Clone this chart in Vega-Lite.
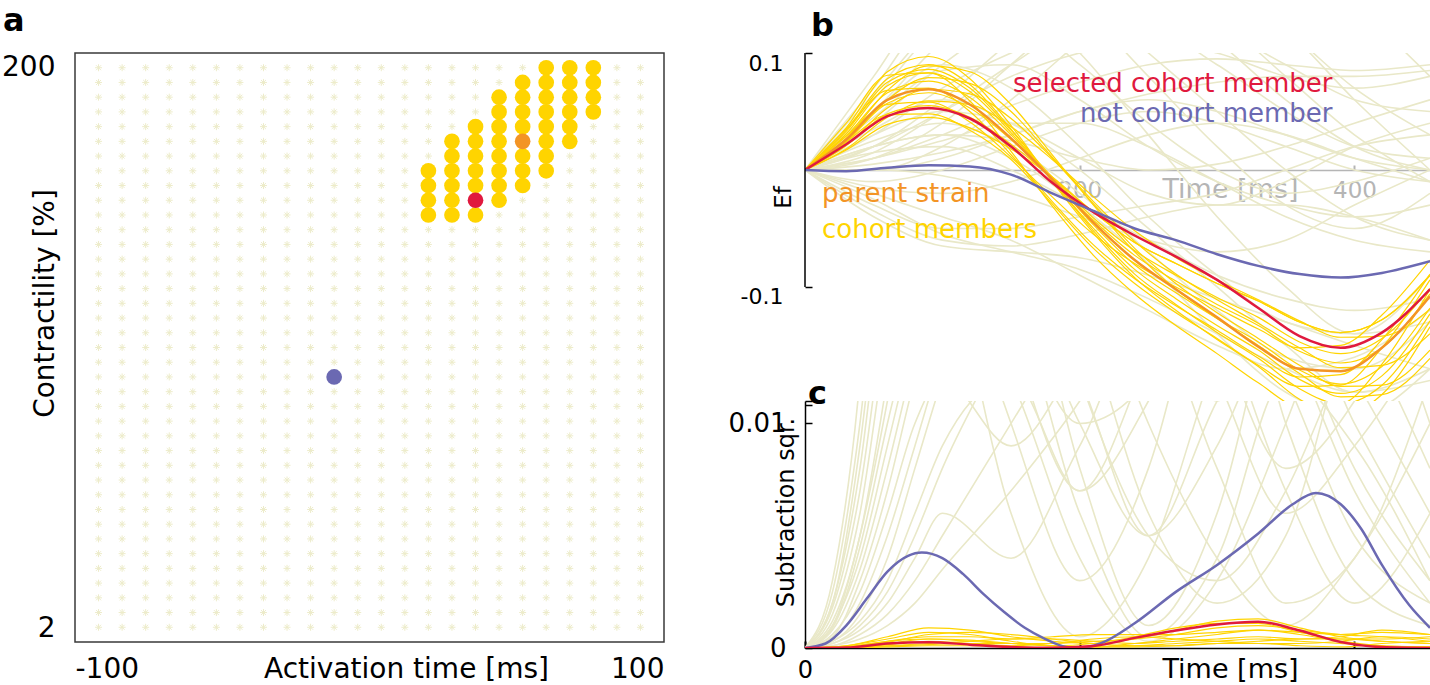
{
"$schema":"https://vega.github.io/schema/vega-lite/v6.json",
"background":"white",
"padding":{"left":0,"top":4,"right":0,"bottom":0},
"autosize":{"type":"pad"},
"spacing":63,
"config":{"view":{"stroke":null},"font":"DejaVu Sans","axis":{"grid":false,"labelColor":"black","titleColor":"black","titleFontWeight":"normal","domainColor":"black","tickColor":"black"}},
"datasets":{
"ast":[
{"x":-92,"y":1},{"x":-92,"y":2},{"x":-92,"y":3},{"x":-92,"y":4},{"x":-92,"y":5},{"x":-92,"y":6},{"x":-92,"y":7},{"x":-92,"y":8},{"x":-92,"y":9},{"x":-92,"y":10},{"x":-92,"y":11},{"x":-92,"y":12},{"x":-92,"y":13},{"x":-92,"y":14},{"x":-92,"y":15},{"x":-92,"y":16},{"x":-92,"y":17},{"x":-92,"y":18},{"x":-92,"y":19},{"x":-92,"y":20},{"x":-92,"y":21},{"x":-92,"y":22},{"x":-92,"y":23},{"x":-92,"y":24},{"x":-92,"y":25},{"x":-92,"y":26},{"x":-92,"y":27},{"x":-92,"y":28},{"x":-92,"y":29},{"x":-92,"y":30},{"x":-92,"y":31},{"x":-92,"y":32},{"x":-92,"y":33},{"x":-92,"y":34},{"x":-92,"y":35},{"x":-92,"y":36},{"x":-92,"y":37},{"x":-92,"y":38},{"x":-92,"y":39},
{"x":-84,"y":1},{"x":-84,"y":2},{"x":-84,"y":3},{"x":-84,"y":4},{"x":-84,"y":5},{"x":-84,"y":6},{"x":-84,"y":7},{"x":-84,"y":8},{"x":-84,"y":9},{"x":-84,"y":10},{"x":-84,"y":11},{"x":-84,"y":12},{"x":-84,"y":13},{"x":-84,"y":14},{"x":-84,"y":15},{"x":-84,"y":16},{"x":-84,"y":17},{"x":-84,"y":18},{"x":-84,"y":19},{"x":-84,"y":20},{"x":-84,"y":21},{"x":-84,"y":22},{"x":-84,"y":23},{"x":-84,"y":24},{"x":-84,"y":25},{"x":-84,"y":26},{"x":-84,"y":27},{"x":-84,"y":28},{"x":-84,"y":29},{"x":-84,"y":30},{"x":-84,"y":31},{"x":-84,"y":32},{"x":-84,"y":33},{"x":-84,"y":34},{"x":-84,"y":35},{"x":-84,"y":36},{"x":-84,"y":37},{"x":-84,"y":38},{"x":-84,"y":39},
{"x":-76,"y":1},{"x":-76,"y":2},{"x":-76,"y":3},{"x":-76,"y":4},{"x":-76,"y":5},{"x":-76,"y":6},{"x":-76,"y":7},{"x":-76,"y":8},{"x":-76,"y":9},{"x":-76,"y":10},{"x":-76,"y":11},{"x":-76,"y":12},{"x":-76,"y":13},{"x":-76,"y":14},{"x":-76,"y":15},{"x":-76,"y":16},{"x":-76,"y":17},{"x":-76,"y":18},{"x":-76,"y":19},{"x":-76,"y":20},{"x":-76,"y":21},{"x":-76,"y":22},{"x":-76,"y":23},{"x":-76,"y":24},{"x":-76,"y":25},{"x":-76,"y":26},{"x":-76,"y":27},{"x":-76,"y":28},{"x":-76,"y":29},{"x":-76,"y":30},{"x":-76,"y":31},{"x":-76,"y":32},{"x":-76,"y":33},{"x":-76,"y":34},{"x":-76,"y":35},{"x":-76,"y":36},{"x":-76,"y":37},{"x":-76,"y":38},{"x":-76,"y":39},
{"x":-68,"y":1},{"x":-68,"y":2},{"x":-68,"y":3},{"x":-68,"y":4},{"x":-68,"y":5},{"x":-68,"y":6},{"x":-68,"y":7},{"x":-68,"y":8},{"x":-68,"y":9},{"x":-68,"y":10},{"x":-68,"y":11},{"x":-68,"y":12},{"x":-68,"y":13},{"x":-68,"y":14},{"x":-68,"y":15},{"x":-68,"y":16},{"x":-68,"y":17},{"x":-68,"y":18},{"x":-68,"y":19},{"x":-68,"y":20},{"x":-68,"y":21},{"x":-68,"y":22},{"x":-68,"y":23},{"x":-68,"y":24},{"x":-68,"y":25},{"x":-68,"y":26},{"x":-68,"y":27},{"x":-68,"y":28},{"x":-68,"y":29},{"x":-68,"y":30},{"x":-68,"y":31},{"x":-68,"y":32},{"x":-68,"y":33},{"x":-68,"y":34},{"x":-68,"y":35},{"x":-68,"y":36},{"x":-68,"y":37},{"x":-68,"y":38},{"x":-68,"y":39},
{"x":-60,"y":1},{"x":-60,"y":2},{"x":-60,"y":3},{"x":-60,"y":4},{"x":-60,"y":5},{"x":-60,"y":6},{"x":-60,"y":7},{"x":-60,"y":8},{"x":-60,"y":9},{"x":-60,"y":10},{"x":-60,"y":11},{"x":-60,"y":12},{"x":-60,"y":13},{"x":-60,"y":14},{"x":-60,"y":15},{"x":-60,"y":16},{"x":-60,"y":17},{"x":-60,"y":18},{"x":-60,"y":19},{"x":-60,"y":20},{"x":-60,"y":21},{"x":-60,"y":22},{"x":-60,"y":23},{"x":-60,"y":24},{"x":-60,"y":25},{"x":-60,"y":26},{"x":-60,"y":27},{"x":-60,"y":28},{"x":-60,"y":29},{"x":-60,"y":30},{"x":-60,"y":31},{"x":-60,"y":32},{"x":-60,"y":33},{"x":-60,"y":34},{"x":-60,"y":35},{"x":-60,"y":36},{"x":-60,"y":37},{"x":-60,"y":38},{"x":-60,"y":39},
{"x":-52,"y":1},{"x":-52,"y":2},{"x":-52,"y":3},{"x":-52,"y":4},{"x":-52,"y":5},{"x":-52,"y":6},{"x":-52,"y":7},{"x":-52,"y":8},{"x":-52,"y":9},{"x":-52,"y":10},{"x":-52,"y":11},{"x":-52,"y":12},{"x":-52,"y":13},{"x":-52,"y":14},{"x":-52,"y":15},{"x":-52,"y":16},{"x":-52,"y":17},{"x":-52,"y":18},{"x":-52,"y":19},{"x":-52,"y":20},{"x":-52,"y":21},{"x":-52,"y":22},{"x":-52,"y":23},{"x":-52,"y":24},{"x":-52,"y":25},{"x":-52,"y":26},{"x":-52,"y":27},{"x":-52,"y":28},{"x":-52,"y":29},{"x":-52,"y":30},{"x":-52,"y":31},{"x":-52,"y":32},{"x":-52,"y":33},{"x":-52,"y":34},{"x":-52,"y":35},{"x":-52,"y":36},{"x":-52,"y":37},{"x":-52,"y":38},{"x":-52,"y":39},
{"x":-44,"y":1},{"x":-44,"y":2},{"x":-44,"y":3},{"x":-44,"y":4},{"x":-44,"y":5},{"x":-44,"y":6},{"x":-44,"y":7},{"x":-44,"y":8},{"x":-44,"y":9},{"x":-44,"y":10},{"x":-44,"y":11},{"x":-44,"y":12},{"x":-44,"y":13},{"x":-44,"y":14},{"x":-44,"y":15},{"x":-44,"y":16},{"x":-44,"y":17},{"x":-44,"y":18},{"x":-44,"y":19},{"x":-44,"y":20},{"x":-44,"y":21},{"x":-44,"y":22},{"x":-44,"y":23},{"x":-44,"y":24},{"x":-44,"y":25},{"x":-44,"y":26},{"x":-44,"y":27},{"x":-44,"y":28},{"x":-44,"y":29},{"x":-44,"y":30},{"x":-44,"y":31},{"x":-44,"y":32},{"x":-44,"y":33},{"x":-44,"y":34},{"x":-44,"y":35},{"x":-44,"y":36},{"x":-44,"y":37},{"x":-44,"y":38},{"x":-44,"y":39},
{"x":-36,"y":1},{"x":-36,"y":2},{"x":-36,"y":3},{"x":-36,"y":4},{"x":-36,"y":5},{"x":-36,"y":6},{"x":-36,"y":7},{"x":-36,"y":8},{"x":-36,"y":9},{"x":-36,"y":10},{"x":-36,"y":11},{"x":-36,"y":12},{"x":-36,"y":13},{"x":-36,"y":14},{"x":-36,"y":15},{"x":-36,"y":16},{"x":-36,"y":17},{"x":-36,"y":18},{"x":-36,"y":19},{"x":-36,"y":20},{"x":-36,"y":21},{"x":-36,"y":22},{"x":-36,"y":23},{"x":-36,"y":24},{"x":-36,"y":25},{"x":-36,"y":26},{"x":-36,"y":27},{"x":-36,"y":28},{"x":-36,"y":29},{"x":-36,"y":30},{"x":-36,"y":31},{"x":-36,"y":32},{"x":-36,"y":33},{"x":-36,"y":34},{"x":-36,"y":35},{"x":-36,"y":36},{"x":-36,"y":37},{"x":-36,"y":38},{"x":-36,"y":39},
{"x":-28,"y":1},{"x":-28,"y":2},{"x":-28,"y":3},{"x":-28,"y":4},{"x":-28,"y":5},{"x":-28,"y":6},{"x":-28,"y":7},{"x":-28,"y":8},{"x":-28,"y":9},{"x":-28,"y":10},{"x":-28,"y":11},{"x":-28,"y":12},{"x":-28,"y":13},{"x":-28,"y":14},{"x":-28,"y":15},{"x":-28,"y":16},{"x":-28,"y":17},{"x":-28,"y":18},{"x":-28,"y":19},{"x":-28,"y":20},{"x":-28,"y":21},{"x":-28,"y":22},{"x":-28,"y":23},{"x":-28,"y":24},{"x":-28,"y":25},{"x":-28,"y":26},{"x":-28,"y":27},{"x":-28,"y":28},{"x":-28,"y":29},{"x":-28,"y":30},{"x":-28,"y":31},{"x":-28,"y":32},{"x":-28,"y":33},{"x":-28,"y":34},{"x":-28,"y":35},{"x":-28,"y":36},{"x":-28,"y":37},{"x":-28,"y":38},{"x":-28,"y":39},
{"x":-20,"y":1},{"x":-20,"y":2},{"x":-20,"y":3},{"x":-20,"y":4},{"x":-20,"y":5},{"x":-20,"y":6},{"x":-20,"y":7},{"x":-20,"y":8},{"x":-20,"y":9},{"x":-20,"y":10},{"x":-20,"y":11},{"x":-20,"y":12},{"x":-20,"y":13},{"x":-20,"y":14},{"x":-20,"y":15},{"x":-20,"y":16},{"x":-20,"y":17},{"x":-20,"y":18},{"x":-20,"y":19},{"x":-20,"y":20},{"x":-20,"y":21},{"x":-20,"y":22},{"x":-20,"y":23},{"x":-20,"y":24},{"x":-20,"y":25},{"x":-20,"y":26},{"x":-20,"y":27},{"x":-20,"y":28},{"x":-20,"y":29},{"x":-20,"y":30},{"x":-20,"y":31},{"x":-20,"y":32},{"x":-20,"y":33},{"x":-20,"y":34},{"x":-20,"y":35},{"x":-20,"y":36},{"x":-20,"y":37},{"x":-20,"y":38},{"x":-20,"y":39},
{"x":-12,"y":1},{"x":-12,"y":2},{"x":-12,"y":3},{"x":-12,"y":4},{"x":-12,"y":5},{"x":-12,"y":6},{"x":-12,"y":7},{"x":-12,"y":8},{"x":-12,"y":9},{"x":-12,"y":10},{"x":-12,"y":11},{"x":-12,"y":12},{"x":-12,"y":13},{"x":-12,"y":14},{"x":-12,"y":15},{"x":-12,"y":16},{"x":-12,"y":17},{"x":-12,"y":18},{"x":-12,"y":19},{"x":-12,"y":20},{"x":-12,"y":21},{"x":-12,"y":22},{"x":-12,"y":23},{"x":-12,"y":24},{"x":-12,"y":25},{"x":-12,"y":26},{"x":-12,"y":27},{"x":-12,"y":28},{"x":-12,"y":29},{"x":-12,"y":30},{"x":-12,"y":31},{"x":-12,"y":32},{"x":-12,"y":33},{"x":-12,"y":34},{"x":-12,"y":35},{"x":-12,"y":36},{"x":-12,"y":37},{"x":-12,"y":38},{"x":-12,"y":39},
{"x":-4,"y":1},{"x":-4,"y":2},{"x":-4,"y":3},{"x":-4,"y":4},{"x":-4,"y":5},{"x":-4,"y":6},{"x":-4,"y":7},{"x":-4,"y":8},{"x":-4,"y":9},{"x":-4,"y":10},{"x":-4,"y":11},{"x":-4,"y":12},{"x":-4,"y":13},{"x":-4,"y":14},{"x":-4,"y":15},{"x":-4,"y":16},{"x":-4,"y":17},{"x":-4,"y":18},{"x":-4,"y":19},{"x":-4,"y":20},{"x":-4,"y":21},{"x":-4,"y":22},{"x":-4,"y":23},{"x":-4,"y":24},{"x":-4,"y":25},{"x":-4,"y":26},{"x":-4,"y":27},{"x":-4,"y":28},{"x":-4,"y":29},{"x":-4,"y":30},{"x":-4,"y":31},{"x":-4,"y":32},{"x":-4,"y":33},{"x":-4,"y":34},{"x":-4,"y":35},{"x":-4,"y":36},{"x":-4,"y":37},{"x":-4,"y":38},{"x":-4,"y":39},
{"x":4,"y":1},{"x":4,"y":2},{"x":4,"y":3},{"x":4,"y":4},{"x":4,"y":5},{"x":4,"y":6},{"x":4,"y":7},{"x":4,"y":8},{"x":4,"y":9},{"x":4,"y":10},{"x":4,"y":11},{"x":4,"y":12},{"x":4,"y":13},{"x":4,"y":14},{"x":4,"y":15},{"x":4,"y":16},{"x":4,"y":17},{"x":4,"y":18},{"x":4,"y":19},{"x":4,"y":20},{"x":4,"y":21},{"x":4,"y":22},{"x":4,"y":23},{"x":4,"y":24},{"x":4,"y":25},{"x":4,"y":26},{"x":4,"y":27},{"x":4,"y":28},{"x":4,"y":29},{"x":4,"y":30},{"x":4,"y":31},{"x":4,"y":32},{"x":4,"y":33},{"x":4,"y":34},{"x":4,"y":35},{"x":4,"y":36},{"x":4,"y":37},{"x":4,"y":38},{"x":4,"y":39},
{"x":12,"y":1},{"x":12,"y":2},{"x":12,"y":3},{"x":12,"y":4},{"x":12,"y":5},{"x":12,"y":6},{"x":12,"y":7},{"x":12,"y":8},{"x":12,"y":9},{"x":12,"y":10},{"x":12,"y":11},{"x":12,"y":12},{"x":12,"y":13},{"x":12,"y":14},{"x":12,"y":15},{"x":12,"y":16},{"x":12,"y":17},{"x":12,"y":18},{"x":12,"y":19},{"x":12,"y":20},{"x":12,"y":21},{"x":12,"y":22},{"x":12,"y":23},{"x":12,"y":24},{"x":12,"y":25},{"x":12,"y":26},{"x":12,"y":27},{"x":12,"y":28},{"x":12,"y":29},{"x":12,"y":30},{"x":12,"y":31},{"x":12,"y":32},{"x":12,"y":33},{"x":12,"y":34},{"x":12,"y":35},{"x":12,"y":36},{"x":12,"y":37},{"x":12,"y":38},{"x":12,"y":39},
{"x":20,"y":1},{"x":20,"y":2},{"x":20,"y":3},{"x":20,"y":4},{"x":20,"y":5},{"x":20,"y":6},{"x":20,"y":7},{"x":20,"y":8},{"x":20,"y":9},{"x":20,"y":10},{"x":20,"y":11},{"x":20,"y":12},{"x":20,"y":13},{"x":20,"y":14},{"x":20,"y":15},{"x":20,"y":16},{"x":20,"y":17},{"x":20,"y":18},{"x":20,"y":19},{"x":20,"y":20},{"x":20,"y":21},{"x":20,"y":22},{"x":20,"y":23},{"x":20,"y":24},{"x":20,"y":25},{"x":20,"y":26},{"x":20,"y":27},{"x":20,"y":28},{"x":20,"y":29},{"x":20,"y":30},{"x":20,"y":31},{"x":20,"y":32},{"x":20,"y":33},{"x":20,"y":34},{"x":20,"y":35},{"x":20,"y":36},{"x":20,"y":37},{"x":20,"y":38},{"x":20,"y":39},
{"x":28,"y":1},{"x":28,"y":2},{"x":28,"y":3},{"x":28,"y":4},{"x":28,"y":5},{"x":28,"y":6},{"x":28,"y":7},{"x":28,"y":8},{"x":28,"y":9},{"x":28,"y":10},{"x":28,"y":11},{"x":28,"y":12},{"x":28,"y":13},{"x":28,"y":14},{"x":28,"y":15},{"x":28,"y":16},{"x":28,"y":17},{"x":28,"y":18},{"x":28,"y":19},{"x":28,"y":20},{"x":28,"y":21},{"x":28,"y":22},{"x":28,"y":23},{"x":28,"y":24},{"x":28,"y":25},{"x":28,"y":26},{"x":28,"y":27},{"x":28,"y":28},{"x":28,"y":29},{"x":28,"y":30},{"x":28,"y":31},{"x":28,"y":32},{"x":28,"y":33},{"x":28,"y":34},{"x":28,"y":35},{"x":28,"y":36},{"x":28,"y":37},{"x":28,"y":38},{"x":28,"y":39},
{"x":36,"y":1},{"x":36,"y":2},{"x":36,"y":3},{"x":36,"y":4},{"x":36,"y":5},{"x":36,"y":6},{"x":36,"y":7},{"x":36,"y":8},{"x":36,"y":9},{"x":36,"y":10},{"x":36,"y":11},{"x":36,"y":12},{"x":36,"y":13},{"x":36,"y":14},{"x":36,"y":15},{"x":36,"y":16},{"x":36,"y":17},{"x":36,"y":18},{"x":36,"y":19},{"x":36,"y":20},{"x":36,"y":21},{"x":36,"y":22},{"x":36,"y":23},{"x":36,"y":24},{"x":36,"y":25},{"x":36,"y":26},{"x":36,"y":27},{"x":36,"y":28},{"x":36,"y":29},{"x":36,"y":30},{"x":36,"y":31},{"x":36,"y":32},{"x":36,"y":33},{"x":36,"y":34},{"x":36,"y":35},{"x":36,"y":36},{"x":36,"y":37},{"x":36,"y":38},{"x":36,"y":39},
{"x":44,"y":1},{"x":44,"y":2},{"x":44,"y":3},{"x":44,"y":4},{"x":44,"y":5},{"x":44,"y":6},{"x":44,"y":7},{"x":44,"y":8},{"x":44,"y":9},{"x":44,"y":10},{"x":44,"y":11},{"x":44,"y":12},{"x":44,"y":13},{"x":44,"y":14},{"x":44,"y":15},{"x":44,"y":16},{"x":44,"y":17},{"x":44,"y":18},{"x":44,"y":19},{"x":44,"y":20},{"x":44,"y":21},{"x":44,"y":22},{"x":44,"y":23},{"x":44,"y":24},{"x":44,"y":25},{"x":44,"y":26},{"x":44,"y":27},{"x":44,"y":28},{"x":44,"y":29},{"x":44,"y":30},{"x":44,"y":31},{"x":44,"y":32},{"x":44,"y":33},{"x":44,"y":34},{"x":44,"y":35},{"x":44,"y":36},{"x":44,"y":37},{"x":44,"y":38},{"x":44,"y":39},
{"x":52,"y":1},{"x":52,"y":2},{"x":52,"y":3},{"x":52,"y":4},{"x":52,"y":5},{"x":52,"y":6},{"x":52,"y":7},{"x":52,"y":8},{"x":52,"y":9},{"x":52,"y":10},{"x":52,"y":11},{"x":52,"y":12},{"x":52,"y":13},{"x":52,"y":14},{"x":52,"y":15},{"x":52,"y":16},{"x":52,"y":17},{"x":52,"y":18},{"x":52,"y":19},{"x":52,"y":20},{"x":52,"y":21},{"x":52,"y":22},{"x":52,"y":23},{"x":52,"y":24},{"x":52,"y":25},{"x":52,"y":26},{"x":52,"y":27},{"x":52,"y":28},{"x":52,"y":29},{"x":52,"y":30},{"x":52,"y":31},{"x":52,"y":32},{"x":52,"y":33},{"x":52,"y":34},{"x":52,"y":35},{"x":52,"y":36},{"x":52,"y":37},{"x":52,"y":38},{"x":52,"y":39},
{"x":60,"y":1},{"x":60,"y":2},{"x":60,"y":3},{"x":60,"y":4},{"x":60,"y":5},{"x":60,"y":6},{"x":60,"y":7},{"x":60,"y":8},{"x":60,"y":9},{"x":60,"y":10},{"x":60,"y":11},{"x":60,"y":12},{"x":60,"y":13},{"x":60,"y":14},{"x":60,"y":15},{"x":60,"y":16},{"x":60,"y":17},{"x":60,"y":18},{"x":60,"y":19},{"x":60,"y":20},{"x":60,"y":21},{"x":60,"y":22},{"x":60,"y":23},{"x":60,"y":24},{"x":60,"y":25},{"x":60,"y":26},{"x":60,"y":27},{"x":60,"y":28},{"x":60,"y":29},{"x":60,"y":30},{"x":60,"y":31},{"x":60,"y":32},{"x":60,"y":33},{"x":60,"y":34},{"x":60,"y":35},{"x":60,"y":36},{"x":60,"y":37},{"x":60,"y":38},{"x":60,"y":39},
{"x":68,"y":1},{"x":68,"y":2},{"x":68,"y":3},{"x":68,"y":4},{"x":68,"y":5},{"x":68,"y":6},{"x":68,"y":7},{"x":68,"y":8},{"x":68,"y":9},{"x":68,"y":10},{"x":68,"y":11},{"x":68,"y":12},{"x":68,"y":13},{"x":68,"y":14},{"x":68,"y":15},{"x":68,"y":16},{"x":68,"y":17},{"x":68,"y":18},{"x":68,"y":19},{"x":68,"y":20},{"x":68,"y":21},{"x":68,"y":22},{"x":68,"y":23},{"x":68,"y":24},{"x":68,"y":25},{"x":68,"y":26},{"x":68,"y":27},{"x":68,"y":28},{"x":68,"y":29},{"x":68,"y":30},{"x":68,"y":31},{"x":68,"y":32},{"x":68,"y":33},{"x":68,"y":34},{"x":68,"y":35},{"x":68,"y":36},{"x":68,"y":37},{"x":68,"y":38},{"x":68,"y":39},
{"x":76,"y":1},{"x":76,"y":2},{"x":76,"y":3},{"x":76,"y":4},{"x":76,"y":5},{"x":76,"y":6},{"x":76,"y":7},{"x":76,"y":8},{"x":76,"y":9},{"x":76,"y":10},{"x":76,"y":11},{"x":76,"y":12},{"x":76,"y":13},{"x":76,"y":14},{"x":76,"y":15},{"x":76,"y":16},{"x":76,"y":17},{"x":76,"y":18},{"x":76,"y":19},{"x":76,"y":20},{"x":76,"y":21},{"x":76,"y":22},{"x":76,"y":23},{"x":76,"y":24},{"x":76,"y":25},{"x":76,"y":26},{"x":76,"y":27},{"x":76,"y":28},{"x":76,"y":29},{"x":76,"y":30},{"x":76,"y":31},{"x":76,"y":32},{"x":76,"y":33},{"x":76,"y":34},{"x":76,"y":35},{"x":76,"y":36},{"x":76,"y":37},{"x":76,"y":38},{"x":76,"y":39},
{"x":84,"y":1},{"x":84,"y":2},{"x":84,"y":3},{"x":84,"y":4},{"x":84,"y":5},{"x":84,"y":6},{"x":84,"y":7},{"x":84,"y":8},{"x":84,"y":9},{"x":84,"y":10},{"x":84,"y":11},{"x":84,"y":12},{"x":84,"y":13},{"x":84,"y":14},{"x":84,"y":15},{"x":84,"y":16},{"x":84,"y":17},{"x":84,"y":18},{"x":84,"y":19},{"x":84,"y":20},{"x":84,"y":21},{"x":84,"y":22},{"x":84,"y":23},{"x":84,"y":24},{"x":84,"y":25},{"x":84,"y":26},{"x":84,"y":27},{"x":84,"y":28},{"x":84,"y":29},{"x":84,"y":30},{"x":84,"y":31},{"x":84,"y":32},{"x":84,"y":33},{"x":84,"y":34},{"x":84,"y":35},{"x":84,"y":36},{"x":84,"y":37},{"x":84,"y":38},{"x":84,"y":39},
{"x":92,"y":1},{"x":92,"y":2},{"x":92,"y":3},{"x":92,"y":4},{"x":92,"y":5},{"x":92,"y":6},{"x":92,"y":7},{"x":92,"y":8},{"x":92,"y":9},{"x":92,"y":10},{"x":92,"y":11},{"x":92,"y":12},{"x":92,"y":13},{"x":92,"y":14},{"x":92,"y":15},{"x":92,"y":16},{"x":92,"y":17},{"x":92,"y":18},{"x":92,"y":19},{"x":92,"y":20},{"x":92,"y":21},{"x":92,"y":22},{"x":92,"y":23},{"x":92,"y":24},{"x":92,"y":25},{"x":92,"y":26},{"x":92,"y":27},{"x":92,"y":28},{"x":92,"y":29},{"x":92,"y":30},{"x":92,"y":31},{"x":92,"y":32},{"x":92,"y":33},{"x":92,"y":34},{"x":92,"y":35},{"x":92,"y":36},{"x":92,"y":37},{"x":92,"y":38},{"x":92,"y":39}
],
"dots":[
{"x":20,"y":29,"g":"cohort"},{"x":20,"y":30,"g":"cohort"},{"x":20,"y":31,"g":"cohort"},{"x":20,"y":32,"g":"cohort"},
{"x":28,"y":29,"g":"cohort"},{"x":28,"y":30,"g":"cohort"},{"x":28,"y":31,"g":"cohort"},{"x":28,"y":32,"g":"cohort"},{"x":28,"y":33,"g":"cohort"},{"x":28,"y":34,"g":"cohort"},
{"x":36,"y":29,"g":"cohort"},{"x":36,"y":31,"g":"cohort"},{"x":36,"y":32,"g":"cohort"},{"x":36,"y":33,"g":"cohort"},{"x":36,"y":34,"g":"cohort"},{"x":36,"y":35,"g":"cohort"},
{"x":44,"y":30,"g":"cohort"},{"x":44,"y":31,"g":"cohort"},{"x":44,"y":32,"g":"cohort"},{"x":44,"y":33,"g":"cohort"},{"x":44,"y":34,"g":"cohort"},{"x":44,"y":35,"g":"cohort"},{"x":44,"y":36,"g":"cohort"},{"x":44,"y":37,"g":"cohort"},
{"x":52,"y":31,"g":"cohort"},{"x":52,"y":32,"g":"cohort"},{"x":52,"y":33,"g":"cohort"},{"x":52,"y":35,"g":"cohort"},{"x":52,"y":36,"g":"cohort"},{"x":52,"y":37,"g":"cohort"},{"x":52,"y":38,"g":"cohort"},
{"x":60,"y":32,"g":"cohort"},{"x":60,"y":33,"g":"cohort"},{"x":60,"y":34,"g":"cohort"},{"x":60,"y":35,"g":"cohort"},{"x":60,"y":36,"g":"cohort"},{"x":60,"y":37,"g":"cohort"},{"x":60,"y":38,"g":"cohort"},{"x":60,"y":39,"g":"cohort"},
{"x":68,"y":34,"g":"cohort"},{"x":68,"y":35,"g":"cohort"},{"x":68,"y":36,"g":"cohort"},{"x":68,"y":37,"g":"cohort"},{"x":68,"y":38,"g":"cohort"},{"x":68,"y":39,"g":"cohort"},
{"x":76,"y":36,"g":"cohort"},{"x":76,"y":37,"g":"cohort"},{"x":76,"y":38,"g":"cohort"},{"x":76,"y":39,"g":"cohort"},
{"x":36,"y":30,"g":"selected"},{"x":52,"y":34,"g":"parent"},{"x":-12,"y":18,"g":"other"}
],
"pb":[
{"k":1,"t":0,"v":0},{"k":1,"t":50,"v":0.08},{"k":1,"t":100,"v":0.16},{"k":1,"t":150,"v":0.18},{"k":1,"t":200,"v":0.14},{"k":1,"t":250,"v":0.08},{"k":1,"t":300,"v":0.02},{"k":1,"t":350,"v":-0.03},{"k":1,"t":400,"v":-0.05},{"k":1,"t":455,"v":-0.02},
{"k":2,"t":0,"v":0},{"k":2,"t":50,"v":0.065},{"k":2,"t":100,"v":0.13},{"k":2,"t":150,"v":0.16},{"k":2,"t":200,"v":0.15},{"k":2,"t":250,"v":0.1},{"k":2,"t":300,"v":0.05},{"k":2,"t":350,"v":0},{"k":2,"t":400,"v":-0.04},{"k":2,"t":455,"v":-0.06},
{"k":3,"t":0,"v":0},{"k":3,"t":50,"v":0.05},{"k":3,"t":100,"v":0.11},{"k":3,"t":150,"v":0.15},{"k":3,"t":200,"v":0.17},{"k":3,"t":250,"v":0.15},{"k":3,"t":300,"v":0.11},{"k":3,"t":350,"v":0.06},{"k":3,"t":400,"v":0.02},{"k":3,"t":455,"v":0},
{"k":4,"t":0,"v":0},{"k":4,"t":50,"v":0.04},{"k":4,"t":100,"v":0.09},{"k":4,"t":150,"v":0.13},{"k":4,"t":200,"v":0.16},{"k":4,"t":250,"v":0.18},{"k":4,"t":300,"v":0.16},{"k":4,"t":350,"v":0.12},{"k":4,"t":400,"v":0.07},{"k":4,"t":455,"v":0.03},
{"k":5,"t":0,"v":0},{"k":5,"t":50,"v":0.03},{"k":5,"t":100,"v":0.07},{"k":5,"t":150,"v":0.1},{"k":5,"t":200,"v":0.12},{"k":5,"t":250,"v":0.13},{"k":5,"t":300,"v":0.12},{"k":5,"t":350,"v":0.09},{"k":5,"t":400,"v":0.06},{"k":5,"t":455,"v":0.05},
{"k":6,"t":0,"v":0},{"k":6,"t":50,"v":0.02},{"k":6,"t":100,"v":0.05},{"k":6,"t":150,"v":0.08},{"k":6,"t":200,"v":0.1},{"k":6,"t":250,"v":0.11},{"k":6,"t":300,"v":0.1},{"k":6,"t":350,"v":0.08},{"k":6,"t":400,"v":0.07},{"k":6,"t":455,"v":0.08},
{"k":7,"t":0,"v":0},{"k":7,"t":50,"v":0.01},{"k":7,"t":100,"v":0.03},{"k":7,"t":150,"v":0.055},{"k":7,"t":200,"v":0.075},{"k":7,"t":250,"v":0.09},{"k":7,"t":300,"v":0.095},{"k":7,"t":350,"v":0.09},{"k":7,"t":400,"v":0.085},{"k":7,"t":455,"v":0.09},
{"k":8,"t":0,"v":0},{"k":8,"t":50,"v":0.005},{"k":8,"t":100,"v":0.015},{"k":8,"t":150,"v":0.03},{"k":8,"t":200,"v":0.05},{"k":8,"t":250,"v":0.065},{"k":8,"t":300,"v":0.075},{"k":8,"t":350,"v":0.08},{"k":8,"t":400,"v":0.08},{"k":8,"t":455,"v":0.085},
{"k":9,"t":0,"v":0},{"k":9,"t":50,"v":0.03},{"k":9,"t":100,"v":0.05},{"k":9,"t":150,"v":0.04},{"k":9,"t":200,"v":0.01},{"k":9,"t":250,"v":-0.02},{"k":9,"t":300,"v":-0.03},{"k":9,"t":350,"v":-0.01},{"k":9,"t":400,"v":0.02},{"k":9,"t":455,"v":0.04},
{"k":10,"t":0,"v":0},{"k":10,"t":50,"v":0.02},{"k":10,"t":100,"v":0.03},{"k":10,"t":150,"v":0.025},{"k":10,"t":200,"v":0.01},{"k":10,"t":250,"v":0},{"k":10,"t":300,"v":0.005},{"k":10,"t":350,"v":0.02},{"k":10,"t":400,"v":0.04},{"k":10,"t":455,"v":0.06},
{"k":11,"t":0,"v":0},{"k":11,"t":50,"v":0},{"k":11,"t":100,"v":0.01},{"k":11,"t":150,"v":0.03},{"k":11,"t":200,"v":0.05},{"k":11,"t":250,"v":0.06},{"k":11,"t":300,"v":0.05},{"k":11,"t":350,"v":0.03},{"k":11,"t":400,"v":0.01},{"k":11,"t":455,"v":0},
{"k":12,"t":0,"v":0},{"k":12,"t":50,"v":-0.01},{"k":12,"t":100,"v":0},{"k":12,"t":150,"v":0.02},{"k":12,"t":200,"v":0.04},{"k":12,"t":250,"v":0.05},{"k":12,"t":300,"v":0.04},{"k":12,"t":350,"v":0.02},{"k":12,"t":400,"v":0},{"k":12,"t":455,"v":-0.01},
{"k":13,"t":0,"v":0},{"k":13,"t":50,"v":0.045},{"k":13,"t":100,"v":0.085},{"k":13,"t":150,"v":0.09},{"k":13,"t":200,"v":0.06},{"k":13,"t":250,"v":0.02},{"k":13,"t":300,"v":-0.01},{"k":13,"t":350,"v":-0.03},{"k":13,"t":400,"v":-0.04},{"k":13,"t":455,"v":-0.03},
{"k":14,"t":0,"v":0},{"k":14,"t":50,"v":0.06},{"k":14,"t":100,"v":0.12},{"k":14,"t":150,"v":0.13},{"k":14,"t":200,"v":0.09},{"k":14,"t":250,"v":0.04},{"k":14,"t":300,"v":0},{"k":14,"t":350,"v":-0.02},{"k":14,"t":400,"v":-0.01},{"k":14,"t":455,"v":0.01},
{"k":15,"t":0,"v":0},{"k":15,"t":50,"v":-0.04},{"k":15,"t":100,"v":-0.065},{"k":15,"t":150,"v":-0.07},{"k":15,"t":200,"v":-0.075},{"k":15,"t":250,"v":-0.09},{"k":15,"t":300,"v":-0.11},{"k":15,"t":350,"v":-0.13},{"k":15,"t":400,"v":-0.15},{"k":15,"t":455,"v":-0.17},
{"k":16,"t":0,"v":0},{"k":16,"t":50,"v":-0.03},{"k":16,"t":100,"v":-0.05},{"k":16,"t":150,"v":-0.05},{"k":16,"t":200,"v":-0.04},{"k":16,"t":250,"v":-0.03},{"k":16,"t":300,"v":-0.02},{"k":16,"t":350,"v":0},{"k":16,"t":400,"v":0.02},{"k":16,"t":455,"v":0.03},
{"k":17,"t":0,"v":0},{"k":17,"t":50,"v":-0.02},{"k":17,"t":100,"v":-0.04},{"k":17,"t":150,"v":-0.06},{"k":17,"t":200,"v":-0.09},{"k":17,"t":250,"v":-0.12},{"k":17,"t":300,"v":-0.15},{"k":17,"t":350,"v":-0.17},{"k":17,"t":400,"v":-0.16},{"k":17,"t":455,"v":-0.12},
{"k":18,"t":0,"v":0},{"k":18,"t":50,"v":-0.035},{"k":18,"t":100,"v":-0.06},{"k":18,"t":150,"v":-0.065},{"k":18,"t":200,"v":-0.055},{"k":18,"t":250,"v":-0.04},{"k":18,"t":300,"v":-0.03},{"k":18,"t":350,"v":-0.03},{"k":18,"t":400,"v":-0.04},{"k":18,"t":455,"v":-0.06},
{"k":19,"t":0,"v":0},{"k":19,"t":50,"v":-0.015},{"k":19,"t":100,"v":-0.02},{"k":19,"t":150,"v":-0.01},{"k":19,"t":200,"v":0.01},{"k":19,"t":250,"v":0.03},{"k":19,"t":300,"v":0.04},{"k":19,"t":350,"v":0.03},{"k":19,"t":400,"v":0.01},{"k":19,"t":455,"v":-0.01},
{"k":20,"t":0,"v":0},{"k":20,"t":50,"v":-0.025},{"k":20,"t":100,"v":-0.055},{"k":20,"t":150,"v":-0.07},{"k":20,"t":200,"v":-0.085},{"k":20,"t":250,"v":-0.11},{"k":20,"t":300,"v":-0.14},{"k":20,"t":350,"v":-0.17},{"k":20,"t":400,"v":-0.19},{"k":20,"t":455,"v":-0.18},
{"k":21,"t":0,"v":0},{"k":21,"t":50,"v":0.01},{"k":21,"t":100,"v":0.04},{"k":21,"t":150,"v":0.09},{"k":21,"t":200,"v":0.14},{"k":21,"t":250,"v":0.17},{"k":21,"t":300,"v":0.16},{"k":21,"t":350,"v":0.12},{"k":21,"t":400,"v":0.06},{"k":21,"t":455,"v":0},
{"k":22,"t":0,"v":0},{"k":22,"t":50,"v":0},{"k":22,"t":100,"v":0.02},{"k":22,"t":150,"v":0.06},{"k":22,"t":200,"v":0.11},{"k":22,"t":250,"v":0.16},{"k":22,"t":300,"v":0.19},{"k":22,"t":350,"v":0.18},{"k":22,"t":400,"v":0.14},{"k":22,"t":455,"v":0.08},
{"k":23,"t":0,"v":0},{"k":23,"t":50,"v":0.02},{"k":23,"t":100,"v":0.06},{"k":23,"t":150,"v":0.11},{"k":23,"t":200,"v":0.15},{"k":23,"t":250,"v":0.16},{"k":23,"t":300,"v":0.13},{"k":23,"t":350,"v":0.08},{"k":23,"t":400,"v":0.03},{"k":23,"t":455,"v":-0.01},
{"k":24,"t":0,"v":0},{"k":24,"t":50,"v":0.015},{"k":24,"t":100,"v":0.05},{"k":24,"t":150,"v":0.09},{"k":24,"t":200,"v":0.12},{"k":24,"t":250,"v":0.12},{"k":24,"t":300,"v":0.09},{"k":24,"t":350,"v":0.05},{"k":24,"t":400,"v":0.02},{"k":24,"t":455,"v":0.01},
{"k":25,"t":0,"v":0},{"k":25,"t":50,"v":0.035},{"k":25,"t":100,"v":0.06},{"k":25,"t":150,"v":0.04},{"k":25,"t":200,"v":0},{"k":25,"t":250,"v":-0.05},{"k":25,"t":300,"v":-0.1},{"k":25,"t":350,"v":-0.15},{"k":25,"t":400,"v":-0.19},{"k":25,"t":455,"v":-0.17},
{"k":26,"t":0,"v":0},{"k":26,"t":50,"v":0.025},{"k":26,"t":100,"v":0.04},{"k":26,"t":150,"v":0.02},{"k":26,"t":200,"v":-0.02},{"k":26,"t":250,"v":-0.07},{"k":26,"t":300,"v":-0.12},{"k":26,"t":350,"v":-0.16},{"k":26,"t":400,"v":-0.17},{"k":26,"t":455,"v":-0.13},
{"k":27,"t":0,"v":0},{"k":27,"t":50,"v":0.05},{"k":27,"t":100,"v":0.09},{"k":27,"t":150,"v":0.07},{"k":27,"t":200,"v":0.02},{"k":27,"t":250,"v":-0.04},{"k":27,"t":300,"v":-0.09},{"k":27,"t":350,"v":-0.13},{"k":27,"t":400,"v":-0.14},{"k":27,"t":455,"v":-0.09},
{"k":28,"t":0,"v":0},{"k":28,"t":50,"v":0.015},{"k":28,"t":100,"v":0.02},{"k":28,"t":150,"v":0},{"k":28,"t":200,"v":-0.03},{"k":28,"t":250,"v":-0.06},{"k":28,"t":300,"v":-0.09},{"k":28,"t":350,"v":-0.11},{"k":28,"t":400,"v":-0.12},{"k":28,"t":455,"v":-0.11},
{"k":29,"t":0,"v":0},{"k":29,"t":50,"v":0.07},{"k":29,"t":100,"v":0.14},{"k":29,"t":150,"v":0.15},{"k":29,"t":200,"v":0.1},{"k":29,"t":250,"v":0.03},{"k":29,"t":300,"v":-0.04},{"k":29,"t":350,"v":-0.1},{"k":29,"t":400,"v":-0.14},{"k":29,"t":455,"v":-0.13},
{"k":30,"t":0,"v":0},{"k":30,"t":50,"v":0.02},{"k":30,"t":100,"v":0.03},{"k":30,"t":150,"v":0.01},{"k":30,"t":200,"v":-0.03},{"k":30,"t":250,"v":-0.08},{"k":30,"t":300,"v":-0.14},{"k":30,"t":350,"v":-0.19},{"k":30,"t":400,"v":-0.21},{"k":30,"t":455,"v":-0.17},
{"k":31,"t":0,"v":0},{"k":31,"t":50,"v":0},{"k":31,"t":100,"v":-0.005},{"k":31,"t":150,"v":-0.02},{"k":31,"t":200,"v":-0.04},{"k":31,"t":250,"v":-0.06},{"k":31,"t":300,"v":-0.07},{"k":31,"t":350,"v":-0.06},{"k":31,"t":400,"v":-0.03},{"k":31,"t":455,"v":0},
{"k":32,"t":0,"v":0},{"k":32,"t":50,"v":0.01},{"k":32,"t":100,"v":0.025},{"k":32,"t":150,"v":0.04},{"k":32,"t":200,"v":0.04},{"k":32,"t":250,"v":0.02},{"k":32,"t":300,"v":-0.01},{"k":32,"t":350,"v":-0.04},{"k":32,"t":400,"v":-0.06},{"k":32,"t":455,"v":-0.07}
],
"yb":[
{"k":1,"t":0,"v":0},{"k":1,"t":30,"v":0.036},{"k":1,"t":60,"v":0.084},{"k":1,"t":90,"v":0.097},{"k":1,"t":120,"v":0.078},{"k":1,"t":150,"v":0.038},{"k":1,"t":180,"v":-0.01},{"k":1,"t":210,"v":-0.054},{"k":1,"t":240,"v":-0.092},{"k":1,"t":270,"v":-0.12},{"k":1,"t":300,"v":-0.145},{"k":1,"t":330,"v":-0.168},{"k":1,"t":360,"v":-0.196},{"k":1,"t":390,"v":-0.209},{"k":1,"t":420,"v":-0.192},{"k":1,"t":455,"v":-0.134},
{"k":2,"t":0,"v":0},{"k":2,"t":30,"v":0.034},{"k":2,"t":60,"v":0.078},{"k":2,"t":90,"v":0.09},{"k":2,"t":120,"v":0.073},{"k":2,"t":150,"v":0.035},{"k":2,"t":180,"v":-0.009},{"k":2,"t":210,"v":-0.05},{"k":2,"t":240,"v":-0.085},{"k":2,"t":270,"v":-0.11},{"k":2,"t":300,"v":-0.133},{"k":2,"t":330,"v":-0.154},{"k":2,"t":360,"v":-0.179},{"k":2,"t":390,"v":-0.191},{"k":2,"t":420,"v":-0.176},{"k":2,"t":455,"v":-0.123},
{"k":3,"t":0,"v":0},{"k":3,"t":30,"v":0.031},{"k":3,"t":60,"v":0.072},{"k":3,"t":90,"v":0.083},{"k":3,"t":120,"v":0.067},{"k":3,"t":150,"v":0.032},{"k":3,"t":180,"v":-0.009},{"k":3,"t":210,"v":-0.052},{"k":3,"t":240,"v":-0.089},{"k":3,"t":270,"v":-0.115},{"k":3,"t":300,"v":-0.139},{"k":3,"t":330,"v":-0.161},{"k":3,"t":360,"v":-0.187},{"k":3,"t":390,"v":-0.2},{"k":3,"t":420,"v":-0.184},{"k":3,"t":455,"v":-0.129},
{"k":4,"t":0,"v":0},{"k":4,"t":30,"v":0.029},{"k":4,"t":60,"v":0.066},{"k":4,"t":90,"v":0.076},{"k":4,"t":120,"v":0.062},{"k":4,"t":150,"v":0.03},{"k":4,"t":180,"v":-0.008},{"k":4,"t":210,"v":-0.043},{"k":4,"t":240,"v":-0.073},{"k":4,"t":270,"v":-0.095},{"k":4,"t":300,"v":-0.115},{"k":4,"t":330,"v":-0.133},{"k":4,"t":360,"v":-0.155},{"k":4,"t":390,"v":-0.165},{"k":4,"t":420,"v":-0.152},{"k":4,"t":455,"v":-0.106},
{"k":5,"t":0,"v":0},{"k":5,"t":30,"v":0.025},{"k":5,"t":60,"v":0.057},{"k":5,"t":90,"v":0.066},{"k":5,"t":120,"v":0.053},{"k":5,"t":150,"v":0.026},{"k":5,"t":180,"v":-0.008},{"k":5,"t":210,"v":-0.047},{"k":5,"t":240,"v":-0.081},{"k":5,"t":270,"v":-0.105},{"k":5,"t":300,"v":-0.127},{"k":5,"t":330,"v":-0.147},{"k":5,"t":360,"v":-0.171},{"k":5,"t":390,"v":-0.183},{"k":5,"t":420,"v":-0.168},{"k":5,"t":455,"v":-0.118},
{"k":6,"t":0,"v":0},{"k":6,"t":30,"v":0.021},{"k":6,"t":60,"v":0.048},{"k":6,"t":90,"v":0.055},{"k":6,"t":120,"v":0.045},{"k":6,"t":150,"v":0.022},{"k":6,"t":180,"v":-0.007},{"k":6,"t":210,"v":-0.041},{"k":6,"t":240,"v":-0.069},{"k":6,"t":270,"v":-0.09},{"k":6,"t":300,"v":-0.109},{"k":6,"t":330,"v":-0.126},{"k":6,"t":360,"v":-0.147},{"k":6,"t":390,"v":-0.157},{"k":6,"t":420,"v":-0.144},{"k":6,"t":455,"v":-0.101},
{"k":7,"t":0,"v":0},{"k":7,"t":30,"v":0.017},{"k":7,"t":60,"v":0.039},{"k":7,"t":90,"v":0.045},{"k":7,"t":120,"v":0.036},{"k":7,"t":150,"v":0.018},{"k":7,"t":180,"v":-0.006},{"k":7,"t":210,"v":-0.036},{"k":7,"t":240,"v":-0.062},{"k":7,"t":270,"v":-0.08},{"k":7,"t":300,"v":-0.097},{"k":7,"t":330,"v":-0.112},{"k":7,"t":360,"v":-0.13},{"k":7,"t":390,"v":-0.139},{"k":7,"t":420,"v":-0.128},{"k":7,"t":455,"v":-0.09},
{"k":8,"t":0,"v":0},{"k":8,"t":30,"v":0.027},{"k":8,"t":60,"v":0.068},{"k":8,"t":90,"v":0.089},{"k":8,"t":120,"v":0.084},{"k":8,"t":150,"v":0.056},{"k":8,"t":180,"v":0.013},{"k":8,"t":210,"v":-0.03},{"k":8,"t":240,"v":-0.07},{"k":8,"t":270,"v":-0.102},{"k":8,"t":300,"v":-0.127},{"k":8,"t":330,"v":-0.15},{"k":8,"t":360,"v":-0.174},{"k":8,"t":390,"v":-0.194},{"k":8,"t":420,"v":-0.192},{"k":8,"t":455,"v":-0.161},
{"k":9,"t":0,"v":0},{"k":9,"t":30,"v":0.024},{"k":9,"t":60,"v":0.06},{"k":9,"t":90,"v":0.079},{"k":9,"t":120,"v":0.074},{"k":9,"t":150,"v":0.05},{"k":9,"t":180,"v":0.011},{"k":9,"t":210,"v":-0.027},{"k":9,"t":240,"v":-0.061},{"k":9,"t":270,"v":-0.089},{"k":9,"t":300,"v":-0.111},{"k":9,"t":330,"v":-0.131},{"k":9,"t":360,"v":-0.152},{"k":9,"t":390,"v":-0.169},{"k":9,"t":420,"v":-0.167},{"k":9,"t":455,"v":-0.14},
{"k":10,"t":0,"v":0},{"k":10,"t":30,"v":0.021},{"k":10,"t":60,"v":0.053},{"k":10,"t":90,"v":0.069},{"k":10,"t":120,"v":0.065},{"k":10,"t":150,"v":0.044},{"k":10,"t":180,"v":0.01},{"k":10,"t":210,"v":-0.029},{"k":10,"t":240,"v":-0.067},{"k":10,"t":270,"v":-0.097},{"k":10,"t":300,"v":-0.122},{"k":10,"t":330,"v":-0.144},{"k":10,"t":360,"v":-0.167},{"k":10,"t":390,"v":-0.185},{"k":10,"t":420,"v":-0.184},{"k":10,"t":455,"v":-0.154},
{"k":11,"t":0,"v":0},{"k":11,"t":30,"v":0.018},{"k":11,"t":60,"v":0.045},{"k":11,"t":90,"v":0.059},{"k":11,"t":120,"v":0.056},{"k":11,"t":150,"v":0.037},{"k":11,"t":180,"v":0.009},{"k":11,"t":210,"v":-0.023},{"k":11,"t":240,"v":-0.052},{"k":11,"t":270,"v":-0.075},{"k":11,"t":300,"v":-0.094},{"k":11,"t":330,"v":-0.111},{"k":11,"t":360,"v":-0.129},{"k":11,"t":390,"v":-0.143},{"k":11,"t":420,"v":-0.142},{"k":11,"t":455,"v":-0.119},
{"k":12,"t":0,"v":0},{"k":12,"t":30,"v":0.04},{"k":12,"t":60,"v":0.081},{"k":12,"t":90,"v":0.083},{"k":12,"t":120,"v":0.059},{"k":12,"t":150,"v":0.016},{"k":12,"t":180,"v":-0.031},{"k":12,"t":210,"v":-0.073},{"k":12,"t":240,"v":-0.106},{"k":12,"t":270,"v":-0.133},{"k":12,"t":300,"v":-0.157},{"k":12,"t":330,"v":-0.182},{"k":12,"t":360,"v":-0.202},{"k":12,"t":390,"v":-0.2},{"k":12,"t":420,"v":-0.166},{"k":12,"t":455,"v":-0.102},
{"k":13,"t":0,"v":0},{"k":13,"t":30,"v":0.035},{"k":13,"t":60,"v":0.068},{"k":13,"t":90,"v":0.07},{"k":13,"t":120,"v":0.05},{"k":13,"t":150,"v":0.013},{"k":13,"t":180,"v":-0.027},{"k":13,"t":210,"v":-0.064},{"k":13,"t":240,"v":-0.093},{"k":13,"t":270,"v":-0.116},{"k":13,"t":300,"v":-0.137},{"k":13,"t":330,"v":-0.159},{"k":13,"t":360,"v":-0.177},{"k":13,"t":390,"v":-0.175},{"k":13,"t":420,"v":-0.145},{"k":13,"t":455,"v":-0.089},
{"k":14,"t":0,"v":0},{"k":14,"t":30,"v":0.029},{"k":14,"t":60,"v":0.056},{"k":14,"t":90,"v":0.058},{"k":14,"t":120,"v":0.041},{"k":14,"t":150,"v":0.011},{"k":14,"t":180,"v":-0.023},{"k":14,"t":210,"v":-0.055},{"k":14,"t":240,"v":-0.08},{"k":14,"t":270,"v":-0.1},{"k":14,"t":300,"v":-0.118},{"k":14,"t":330,"v":-0.136},{"k":14,"t":360,"v":-0.152},{"k":14,"t":390,"v":-0.15},{"k":14,"t":420,"v":-0.124},{"k":14,"t":455,"v":-0.077},
{"k":15,"t":0,"v":0},{"k":15,"t":30,"v":0.024},{"k":15,"t":60,"v":0.047},{"k":15,"t":90,"v":0.048},{"k":15,"t":120,"v":0.034},{"k":15,"t":150,"v":0.009},{"k":15,"t":180,"v":-0.029},{"k":15,"t":210,"v":-0.067},{"k":15,"t":240,"v":-0.097},{"k":15,"t":270,"v":-0.122},{"k":15,"t":300,"v":-0.144},{"k":15,"t":330,"v":-0.167},{"k":15,"t":360,"v":-0.185},{"k":15,"t":390,"v":-0.184},{"k":15,"t":420,"v":-0.152},{"k":15,"t":455,"v":-0.094},
{"k":16,"t":0,"v":0},{"k":16,"t":30,"v":0.033},{"k":16,"t":60,"v":0.075},{"k":16,"t":90,"v":0.086},{"k":16,"t":120,"v":0.07},{"k":16,"t":150,"v":0.034},{"k":16,"t":180,"v":-0.006},{"k":16,"t":210,"v":-0.036},{"k":16,"t":240,"v":-0.062},{"k":16,"t":270,"v":-0.08},{"k":16,"t":300,"v":-0.097},{"k":16,"t":330,"v":-0.112},{"k":16,"t":360,"v":-0.13},{"k":16,"t":390,"v":-0.139},{"k":16,"t":420,"v":-0.128},{"k":16,"t":455,"v":-0.09}
],
"mb":[
{"s":"parent","t":0,"v":0},{"s":"parent","t":30,"v":0.026},{"s":"parent","t":60,"v":0.06},{"s":"parent","t":90,"v":0.069},{"s":"parent","t":120,"v":0.056},{"s":"parent","t":150,"v":0.027},{"s":"parent","t":180,"v":-0.008},{"s":"parent","t":210,"v":-0.045},{"s":"parent","t":240,"v":-0.077},{"s":"parent","t":270,"v":-0.102},{"s":"parent","t":300,"v":-0.126},{"s":"parent","t":330,"v":-0.151},{"s":"parent","t":360,"v":-0.17},{"s":"parent","t":390,"v":-0.172},{"s":"parent","t":420,"v":-0.152},{"s":"parent","t":455,"v":-0.108},
{"s":"selected","t":0,"v":0},{"s":"selected","t":30,"v":0.022},{"s":"selected","t":60,"v":0.046},{"s":"selected","t":90,"v":0.053},{"s":"selected","t":120,"v":0.044},{"s":"selected","t":150,"v":0.02},{"s":"selected","t":180,"v":-0.011},{"s":"selected","t":210,"v":-0.036},{"s":"selected","t":240,"v":-0.056},{"s":"selected","t":270,"v":-0.074},{"s":"selected","t":300,"v":-0.094},{"s":"selected","t":330,"v":-0.118},{"s":"selected","t":360,"v":-0.142},{"s":"selected","t":390,"v":-0.152},{"s":"selected","t":420,"v":-0.139},{"s":"selected","t":455,"v":-0.102},
{"s":"other","t":0,"v":0},{"s":"other","t":30,"v":-0.001},{"s":"other","t":60,"v":0.002},{"s":"other","t":90,"v":0.004},{"s":"other","t":120,"v":0.003},{"s":"other","t":150,"v":-0.004},{"s":"other","t":180,"v":-0.02},{"s":"other","t":210,"v":-0.035},{"s":"other","t":240,"v":-0.05},{"s":"other","t":270,"v":-0.06},{"s":"other","t":300,"v":-0.072},{"s":"other","t":330,"v":-0.082},{"s":"other","t":360,"v":-0.089},{"s":"other","t":390,"v":-0.092},{"s":"other","t":420,"v":-0.088},{"s":"other","t":455,"v":-0.078}
],
"pc":[
{"k":1,"t":0,"v":0},{"k":1,"t":20,"v":0.003},{"k":1,"t":40,"v":0.012},{"k":1,"t":60,"v":0.03},{"k":1,"t":80,"v":0.04},{"k":1,"t":100,"v":0.04},{"k":1,"t":150,"v":0.04},{"k":1,"t":200,"v":0.04},{"k":1,"t":250,"v":0.04},{"k":1,"t":300,"v":0.04},{"k":1,"t":350,"v":0.04},{"k":1,"t":400,"v":0.04},{"k":1,"t":455,"v":0.04},
{"k":2,"t":0,"v":0},{"k":2,"t":20,"v":0.002},{"k":2,"t":40,"v":0.008},{"k":2,"t":60,"v":0.018},{"k":2,"t":80,"v":0.025},{"k":2,"t":100,"v":0.02},{"k":2,"t":150,"v":0.01},{"k":2,"t":200,"v":0.003},{"k":2,"t":250,"v":0.008},{"k":2,"t":300,"v":0.02},{"k":2,"t":350,"v":0.03},{"k":2,"t":400,"v":0.02},{"k":2,"t":455,"v":0.01},
{"k":3,"t":0,"v":0},{"k":3,"t":20,"v":0.001},{"k":3,"t":40,"v":0.005},{"k":3,"t":60,"v":0.011},{"k":3,"t":80,"v":0.018},{"k":3,"t":100,"v":0.024},{"k":3,"t":150,"v":0.02},{"k":3,"t":200,"v":0.008},{"k":3,"t":250,"v":0.001},{"k":3,"t":300,"v":0.006},{"k":3,"t":350,"v":0.018},{"k":3,"t":400,"v":0.025},{"k":3,"t":455,"v":0.015},
{"k":4,"t":0,"v":0},{"k":4,"t":20,"v":0.0005},{"k":4,"t":40,"v":0.003},{"k":4,"t":60,"v":0.007},{"k":4,"t":80,"v":0.012},{"k":4,"t":100,"v":0.016},{"k":4,"t":150,"v":0.015},{"k":4,"t":200,"v":0.006},{"k":4,"t":250,"v":0.0005},{"k":4,"t":300,"v":0.004},{"k":4,"t":350,"v":0.012},{"k":4,"t":400,"v":0.009},{"k":4,"t":455,"v":0.003},
{"k":5,"t":0,"v":0},{"k":5,"t":20,"v":0.0003},{"k":5,"t":40,"v":0.0015},{"k":5,"t":60,"v":0.004},{"k":5,"t":80,"v":0.008},{"k":5,"t":100,"v":0.012},{"k":5,"t":150,"v":0.02},{"k":5,"t":200,"v":0.015},{"k":5,"t":250,"v":0.006},{"k":5,"t":300,"v":0.002},{"k":5,"t":350,"v":0.005},{"k":5,"t":400,"v":0.015},{"k":5,"t":455,"v":0.02},
{"k":6,"t":0,"v":0},{"k":6,"t":20,"v":0.0002},{"k":6,"t":40,"v":0.001},{"k":6,"t":60,"v":0.0025},{"k":6,"t":80,"v":0.005},{"k":6,"t":100,"v":0.008},{"k":6,"t":150,"v":0.014},{"k":6,"t":200,"v":0.02},{"k":6,"t":250,"v":0.016},{"k":6,"t":300,"v":0.008},{"k":6,"t":350,"v":0.002},{"k":6,"t":400,"v":0.004},{"k":6,"t":455,"v":0.012},
{"k":7,"t":0,"v":0},{"k":7,"t":20,"v":0.0001},{"k":7,"t":40,"v":0.0006},{"k":7,"t":60,"v":0.0015},{"k":7,"t":80,"v":0.003},{"k":7,"t":100,"v":0.005},{"k":7,"t":150,"v":0.01},{"k":7,"t":200,"v":0.015},{"k":7,"t":250,"v":0.02},{"k":7,"t":300,"v":0.015},{"k":7,"t":350,"v":0.007},{"k":7,"t":400,"v":0.002},{"k":7,"t":455,"v":0.006},
{"k":8,"t":0,"v":0},{"k":8,"t":20,"v":0.0001},{"k":8,"t":40,"v":0.0004},{"k":8,"t":60,"v":0.001},{"k":8,"t":80,"v":0.002},{"k":8,"t":100,"v":0.0035},{"k":8,"t":150,"v":0.007},{"k":8,"t":200,"v":0.011},{"k":8,"t":250,"v":0.016},{"k":8,"t":300,"v":0.02},{"k":8,"t":350,"v":0.015},{"k":8,"t":400,"v":0.008},{"k":8,"t":455,"v":0.003},
{"k":9,"t":0,"v":0},{"k":9,"t":20,"v":0.002},{"k":9,"t":40,"v":0.009},{"k":9,"t":60,"v":0.02},{"k":9,"t":80,"v":0.03},{"k":9,"t":100,"v":0.03},{"k":9,"t":150,"v":0.022},{"k":9,"t":200,"v":0.012},{"k":9,"t":250,"v":0.005},{"k":9,"t":300,"v":0.003},{"k":9,"t":350,"v":0.007},{"k":9,"t":400,"v":0.014},{"k":9,"t":455,"v":0.02},
{"k":10,"t":0,"v":0},{"k":10,"t":20,"v":0.0015},{"k":10,"t":40,"v":0.006},{"k":10,"t":60,"v":0.014},{"k":10,"t":80,"v":0.02},{"k":10,"t":100,"v":0.018},{"k":10,"t":150,"v":0.006},{"k":10,"t":200,"v":0.0005},{"k":10,"t":250,"v":0.004},{"k":10,"t":300,"v":0.013},{"k":10,"t":350,"v":0.02},{"k":10,"t":400,"v":0.015},{"k":10,"t":455,"v":0.008},
{"k":11,"t":0,"v":0},{"k":11,"t":20,"v":0.001},{"k":11,"t":40,"v":0.004},{"k":11,"t":60,"v":0.009},{"k":11,"t":80,"v":0.014},{"k":11,"t":100,"v":0.018},{"k":11,"t":150,"v":0.024},{"k":11,"t":200,"v":0.018},{"k":11,"t":250,"v":0.01},{"k":11,"t":300,"v":0.004},{"k":11,"t":350,"v":0.001},{"k":11,"t":400,"v":0.004},{"k":11,"t":455,"v":0.01},
{"k":12,"t":0,"v":0},{"k":12,"t":20,"v":0.0008},{"k":12,"t":40,"v":0.0035},{"k":12,"t":60,"v":0.008},{"k":12,"t":80,"v":0.013},{"k":12,"t":100,"v":0.017},{"k":12,"t":150,"v":0.012},{"k":12,"t":200,"v":0.004},{"k":12,"t":250,"v":0.0003},{"k":12,"t":300,"v":0.003},{"k":12,"t":350,"v":0.01},{"k":12,"t":400,"v":0.018},{"k":12,"t":455,"v":0.022},
{"k":13,"t":0,"v":0},{"k":13,"t":20,"v":0.0012},{"k":13,"t":40,"v":0.005},{"k":13,"t":60,"v":0.012},{"k":13,"t":80,"v":0.02},{"k":13,"t":100,"v":0.025},{"k":13,"t":150,"v":0.016},{"k":13,"t":200,"v":0.01},{"k":13,"t":250,"v":0.012},{"k":13,"t":300,"v":0.018},{"k":13,"t":350,"v":0.014},{"k":13,"t":400,"v":0.007},{"k":13,"t":455,"v":0.002},
{"k":14,"t":0,"v":0},{"k":14,"t":20,"v":0.0004},{"k":14,"t":40,"v":0.002},{"k":14,"t":60,"v":0.005},{"k":14,"t":80,"v":0.009},{"k":14,"t":100,"v":0.013},{"k":14,"t":150,"v":0.018},{"k":14,"t":200,"v":0.012},{"k":14,"t":250,"v":0.005},{"k":14,"t":300,"v":0.009},{"k":14,"t":350,"v":0.016},{"k":14,"t":400,"v":0.02},{"k":14,"t":455,"v":0.016},
{"k":15,"t":0,"v":0},{"k":15,"t":20,"v":0.0006},{"k":15,"t":40,"v":0.0025},{"k":15,"t":60,"v":0.006},{"k":15,"t":80,"v":0.01},{"k":15,"t":100,"v":0.012},{"k":15,"t":150,"v":0.009},{"k":15,"t":200,"v":0.013},{"k":15,"t":250,"v":0.018},{"k":15,"t":300,"v":0.012},{"k":15,"t":350,"v":0.006},{"k":15,"t":400,"v":0.009},{"k":15,"t":455,"v":0.014},
{"k":16,"t":0,"v":0},{"k":16,"t":20,"v":0.0025},{"k":16,"t":40,"v":0.01},{"k":16,"t":60,"v":0.022},{"k":16,"t":80,"v":0.028},{"k":16,"t":100,"v":0.025},{"k":16,"t":150,"v":0.014},{"k":16,"t":200,"v":0.007},{"k":16,"t":250,"v":0.011},{"k":16,"t":300,"v":0.018},{"k":16,"t":350,"v":0.012},{"k":16,"t":400,"v":0.005},{"k":16,"t":455,"v":0.002},
{"k":17,"t":0,"v":0},{"k":17,"t":20,"v":0.0002},{"k":17,"t":40,"v":0.0008},{"k":17,"t":60,"v":0.002},{"k":17,"t":80,"v":0.004},{"k":17,"t":100,"v":0.006},{"k":17,"t":150,"v":0.004},{"k":17,"t":200,"v":0.009},{"k":17,"t":250,"v":0.015},{"k":17,"t":300,"v":0.011},{"k":17,"t":350,"v":0.017},{"k":17,"t":400,"v":0.012},{"k":17,"t":455,"v":0.006},
{"k":18,"t":0,"v":0},{"k":18,"t":20,"v":0.0003},{"k":18,"t":40,"v":0.0012},{"k":18,"t":60,"v":0.003},{"k":18,"t":80,"v":0.006},{"k":18,"t":100,"v":0.009},{"k":18,"t":150,"v":0.012},{"k":18,"t":200,"v":0.007},{"k":18,"t":250,"v":0.013},{"k":18,"t":300,"v":0.02},{"k":18,"t":350,"v":0.01},{"k":18,"t":400,"v":0.003},{"k":18,"t":455,"v":0.001},
{"k":19,"t":0,"v":0},{"k":19,"t":20,"v":0.0018},{"k":19,"t":40,"v":0.007},{"k":19,"t":60,"v":0.016},{"k":19,"t":80,"v":0.024},{"k":19,"t":100,"v":0.028},{"k":19,"t":150,"v":0.02},{"k":19,"t":200,"v":0.016},{"k":19,"t":250,"v":0.02},{"k":19,"t":300,"v":0.014},{"k":19,"t":350,"v":0.008},{"k":19,"t":400,"v":0.011},{"k":19,"t":455,"v":0.018},
{"k":20,"t":0,"v":0},{"k":20,"t":20,"v":0.0009},{"k":20,"t":40,"v":0.0045},{"k":20,"t":60,"v":0.01},{"k":20,"t":80,"v":0.015},{"k":20,"t":100,"v":0.02},{"k":20,"t":150,"v":0.017},{"k":20,"t":200,"v":0.01},{"k":20,"t":250,"v":0.005},{"k":20,"t":300,"v":0.011},{"k":20,"t":350,"v":0.016},{"k":20,"t":400,"v":0.01},{"k":20,"t":455,"v":0.004}
],
"yc":[
{"k":1,"t":0,"v":0},{"k":1,"t":30,"v":0.0001},{"k":1,"t":60,"v":0.0005},{"k":1,"t":90,"v":0.0009},{"k":1,"t":120,"v":0.0008},{"k":1,"t":150,"v":0.0005},{"k":1,"t":180,"v":0.0003},{"k":1,"t":210,"v":0.0002},{"k":1,"t":240,"v":0.0004},{"k":1,"t":270,"v":0.0008},{"k":1,"t":300,"v":0.0012},{"k":1,"t":330,"v":0.0013},{"k":1,"t":360,"v":0.0009},{"k":1,"t":390,"v":0.0005},{"k":1,"t":420,"v":0.0003},{"k":1,"t":455,"v":0.0002},
{"k":2,"t":0,"v":0},{"k":2,"t":30,"v":0.0001},{"k":2,"t":60,"v":0.0004},{"k":2,"t":90,"v":0.0007},{"k":2,"t":120,"v":0.0006},{"k":2,"t":150,"v":0.0003},{"k":2,"t":180,"v":0.0001},{"k":2,"t":210,"v":0.0002},{"k":2,"t":240,"v":0.0005},{"k":2,"t":270,"v":0.0009},{"k":2,"t":300,"v":0.0011},{"k":2,"t":330,"v":0.0011},{"k":2,"t":360,"v":0.0007},{"k":2,"t":390,"v":0.0004},{"k":2,"t":420,"v":0.0004},{"k":2,"t":455,"v":0.0005},
{"k":3,"t":0,"v":0},{"k":3,"t":30,"v":0.00005},{"k":3,"t":60,"v":0.0003},{"k":3,"t":90,"v":0.0005},{"k":3,"t":120,"v":0.0005},{"k":3,"t":150,"v":0.0004},{"k":3,"t":180,"v":0.0005},{"k":3,"t":210,"v":0.0006},{"k":3,"t":240,"v":0.0006},{"k":3,"t":270,"v":0.0006},{"k":3,"t":300,"v":0.0007},{"k":3,"t":330,"v":0.0008},{"k":3,"t":360,"v":0.0007},{"k":3,"t":390,"v":0.0006},{"k":3,"t":420,"v":0.0007},{"k":3,"t":455,"v":0.0006},
{"k":4,"t":0,"v":0},{"k":4,"t":30,"v":0.00003},{"k":4,"t":60,"v":0.0002},{"k":4,"t":90,"v":0.0004},{"k":4,"t":120,"v":0.00035},{"k":4,"t":150,"v":0.0002},{"k":4,"t":180,"v":0.0001},{"k":4,"t":210,"v":0.00005},{"k":4,"t":240,"v":0.0002},{"k":4,"t":270,"v":0.0004},{"k":4,"t":300,"v":0.0006},{"k":4,"t":330,"v":0.0008},{"k":4,"t":360,"v":0.0006},{"k":4,"t":390,"v":0.0003},{"k":4,"t":420,"v":0.0001},{"k":4,"t":455,"v":0.00005},
{"k":5,"t":0,"v":0},{"k":5,"t":30,"v":0.00002},{"k":5,"t":60,"v":0.0001},{"k":5,"t":90,"v":0.0002},{"k":5,"t":120,"v":0.0003},{"k":5,"t":150,"v":0.0004},{"k":5,"t":180,"v":0.0004},{"k":5,"t":210,"v":0.0003},{"k":5,"t":240,"v":0.0002},{"k":5,"t":270,"v":0.0003},{"k":5,"t":300,"v":0.0004},{"k":5,"t":330,"v":0.0005},{"k":5,"t":360,"v":0.0004},{"k":5,"t":390,"v":0.0005},{"k":5,"t":420,"v":0.0008},{"k":5,"t":455,"v":0.0006},
{"k":6,"t":0,"v":0},{"k":6,"t":30,"v":0.00001},{"k":6,"t":60,"v":0.00005},{"k":6,"t":90,"v":0.0001},{"k":6,"t":120,"v":0.0001},{"k":6,"t":150,"v":0.00005},{"k":6,"t":180,"v":0.00002},{"k":6,"t":210,"v":0.00005},{"k":6,"t":240,"v":0.0001},{"k":6,"t":270,"v":0.0002},{"k":6,"t":300,"v":0.0003},{"k":6,"t":330,"v":0.0004},{"k":6,"t":360,"v":0.0003},{"k":6,"t":390,"v":0.0002},{"k":6,"t":420,"v":0.0001},{"k":6,"t":455,"v":0.00005},
{"k":7,"t":0,"v":0},{"k":7,"t":30,"v":0.00004},{"k":7,"t":60,"v":0.00025},{"k":7,"t":90,"v":0.0006},{"k":7,"t":120,"v":0.0007},{"k":7,"t":150,"v":0.0006},{"k":7,"t":180,"v":0.0004},{"k":7,"t":210,"v":0.0002},{"k":7,"t":240,"v":0.0001},{"k":7,"t":270,"v":0.0001},{"k":7,"t":300,"v":0.0002},{"k":7,"t":330,"v":0.0003},{"k":7,"t":360,"v":0.0004},{"k":7,"t":390,"v":0.0004},{"k":7,"t":420,"v":0.0003},{"k":7,"t":455,"v":0.0002},
{"k":8,"t":0,"v":0},{"k":8,"t":30,"v":0.00002},{"k":8,"t":60,"v":0.00015},{"k":8,"t":90,"v":0.0003},{"k":8,"t":120,"v":0.0002},{"k":8,"t":150,"v":0.0001},{"k":8,"t":180,"v":0.0002},{"k":8,"t":210,"v":0.0004},{"k":8,"t":240,"v":0.0005},{"k":8,"t":270,"v":0.0004},{"k":8,"t":300,"v":0.0003},{"k":8,"t":330,"v":0.0002},{"k":8,"t":360,"v":0.0002},{"k":8,"t":390,"v":0.0003},{"k":8,"t":420,"v":0.0005},{"k":8,"t":455,"v":0.0004},
{"k":9,"t":0,"v":0},{"k":9,"t":30,"v":0.00006},{"k":9,"t":60,"v":0.0003},{"k":9,"t":90,"v":0.0004},{"k":9,"t":120,"v":0.0003},{"k":9,"t":150,"v":0.0002},{"k":9,"t":180,"v":0.0002},{"k":9,"t":210,"v":0.0003},{"k":9,"t":240,"v":0.0004},{"k":9,"t":270,"v":0.0006},{"k":9,"t":300,"v":0.0009},{"k":9,"t":330,"v":0.001},{"k":9,"t":360,"v":0.0008},{"k":9,"t":390,"v":0.0006},{"k":9,"t":420,"v":0.0005},{"k":9,"t":455,"v":0.0003},
{"k":10,"t":0,"v":0},{"k":10,"t":30,"v":0.00001},{"k":10,"t":60,"v":0.00008},{"k":10,"t":90,"v":0.00015},{"k":10,"t":120,"v":0.0002},{"k":10,"t":150,"v":0.0002},{"k":10,"t":180,"v":0.0001},{"k":10,"t":210,"v":0.00005},{"k":10,"t":240,"v":0.00005},{"k":10,"t":270,"v":0.0001},{"k":10,"t":300,"v":0.0002},{"k":10,"t":330,"v":0.0002},{"k":10,"t":360,"v":0.0001},{"k":10,"t":390,"v":0.00005},{"k":10,"t":420,"v":0.0002},{"k":10,"t":455,"v":0.0003}
],
"mc":[
{"s":"other","t":0,"v":0},{"s":"other","t":15,"v":0.0002},{"s":"other","t":30,"v":0.001},{"s":"other","t":45,"v":0.0022},{"s":"other","t":60,"v":0.0034},{"s":"other","t":75,"v":0.0041},{"s":"other","t":85,"v":0.00425},{"s":"other","t":100,"v":0.004},{"s":"other","t":115,"v":0.0033},{"s":"other","t":130,"v":0.0024},{"s":"other","t":145,"v":0.0016},{"s":"other","t":160,"v":0.0009},{"s":"other","t":175,"v":0.0004},{"s":"other","t":190,"v":0.00005},{"s":"other","t":200,"v":0},{"s":"other","t":215,"v":0.0002},{"s":"other","t":240,"v":0.0011},{"s":"other","t":270,"v":0.0025},{"s":"other","t":300,"v":0.0037},{"s":"other","t":330,"v":0.0051},{"s":"other","t":355,"v":0.0064},{"s":"other","t":372,"v":0.0069},{"s":"other","t":390,"v":0.0064},{"s":"other","t":405,"v":0.0053},{"s":"other","t":420,"v":0.0037},{"s":"other","t":440,"v":0.0019},{"s":"other","t":455,"v":0.0009},
{"s":"selected","t":0,"v":0},{"s":"selected","t":30,"v":0.00002},{"s":"selected","t":60,"v":0.0002},{"s":"selected","t":90,"v":0.00026},{"s":"selected","t":120,"v":0.00015},{"s":"selected","t":150,"v":0.00004},{"s":"selected","t":180,"v":0.00001},{"s":"selected","t":210,"v":0.00009},{"s":"selected","t":240,"v":0.00045},{"s":"selected","t":270,"v":0.00078},{"s":"selected","t":300,"v":0.00105},{"s":"selected","t":330,"v":0.00117},{"s":"selected","t":360,"v":0.00078},{"s":"selected","t":390,"v":0.00027},{"s":"selected","t":420,"v":0.00004},{"s":"selected","t":455,"v":0}
]
},
"hconcat":[
{
"width":589,"height":589,
"view":{"stroke":"#3a3a3a","strokeWidth":1.5},
"title":{"text":"a","anchor":"start","frame":"group","dx":-72,"offset":-10,"baseline":"alphabetic","fontSize":32,"fontWeight":"bold","color":"black"},
"encoding":{
"x":{"field":"x","type":"quantitative","scale":{"domain":[-100,100],"nice":false},"axis":{"values":[-100,100],"labelExpr":"datum.value < 0 ? '-100' : '100'","labelFlush":true,"ticks":false,"tickSize":0,"domain":false,"labelFontSize":28,"labelPadding":35,"labelBaseline":"alphabetic","title":"Activation time [ms]","titleFontSize":28,"titleX":331,"titleY":35,"titleBaseline":"alphabetic","titleAlign":"center"}},
"y":{"field":"y","type":"quantitative","scale":{"domain":[0,40],"nice":false},"axis":{"values":[0,40],"labelExpr":"datum.value == 0 ? '2' : '200'","labelFlush":true,"ticks":false,"tickSize":0,"domain":false,"labelFontSize":28,"labelPadding":20,"title":"Contractility [%]","titleFontSize":28,"titleX":-22,"titleY":250,"titleAngle":-90,"titleBaseline":"alphabetic","titleAlign":"center"}}
},
"layer":[
{"data":{"name":"ast"},"mark":{"type":"point","shape":"M0,-1L0,1M-1,0L1,0M-0.7,-0.7L0.7,0.7M-0.7,0.7L0.7,-0.7","filled":false,"size":49,"strokeWidth":1,"color":"#edecca","opacity":1}},
{"data":{"name":"dots"},"mark":{"type":"circle","size":245,"opacity":1},"encoding":{"color":{"field":"g","type":"nominal","scale":{"domain":["cohort","parent","selected","other"],"range":["#ffd400","#f39425","#e0193e","#6b69b2"]},"legend":null}}}
]
},
{
"vconcat":[
{
"width":625,"height":348,
"title":{"text":"b","anchor":"start","frame":"group","dx":6,"offset":-16,"baseline":"alphabetic","fontSize":32,"fontWeight":"bold","color":"black"},
"encoding":{
"x":{"field":"t","type":"quantitative","scale":{"domain":[0,455],"nice":false},"axis":{"values":[200,400],"offset":-231,"labelFlush":false,"domainColor":"#b5b5b5","domainWidth":1.5,"tickColor":"#b5b5b5","tickWidth":2,"tickSize":-5,"labelColor":"#b5b5b5","labelFontSize":23,"labelBaseline":"alphabetic","labelPadding":32,"title":"Time [ms]","titleColor":"#b5b5b5","titleFontSize":27,"titleX":425,"titleY":27,"titleBaseline":"alphabetic","titleAlign":"center"}},
"y":{"field":"v","type":"quantitative","scale":{"domain":[-0.1975,0.1],"nice":false,"zero":false},"axis":{"values":[-0.1,0.1],"labelExpr":"datum.value > 0 ? '0.1' : '-0.1'","domain":false,"tickSize":-7,"tickWidth":1.5,"tickColor":"black","labelFontSize":22,"labelPadding":29,"labelBaseline":"top","title":"Ef","titleFontSize":23,"titleX":-15,"titleY":144,"titleAngle":-90,"titleBaseline":"alphabetic","titleAlign":"center"}}
},
"layer":[
{"data":{"name":"pb"},"mark":{"type":"line","color":"#e9e8c8","strokeWidth":1.6,"clip":true,"interpolate":"monotone"},"encoding":{"detail":{"field":"k","type":"nominal"}}},
{"data":{"name":"yb"},"mark":{"type":"line","color":"#ffd400","strokeWidth":1.2,"clip":true,"interpolate":"monotone"},"encoding":{"detail":{"field":"k","type":"nominal"}}},
{"data":{"name":"mb"},"mark":{"type":"line","strokeWidth":2.5,"clip":true,"interpolate":"monotone"},"encoding":{"color":{"field":"s","type":"nominal","scale":{"domain":["parent","selected","other","cohort"],"range":["#f7931e","#e2183c","#6d6ab3","#ffd400"]},"legend":null}}},
{"data":{"values":[{"t":0,"v":-0.1,"v2":0.1}]},"mark":{"type":"rule","color":"black","strokeWidth":1.5},"encoding":{"y2":{"field":"v2"}}},
{"data":{"values":[{"t":384,"v":0.0667,"s":"selected","label":"selected cohort member"},{"t":384,"v":0.041,"s":"other","label":"not cohort member"}]},"mark":{"type":"text","align":"right","baseline":"alphabetic","fontSize":26},"encoding":{"text":{"field":"label"},"color":{"field":"s","type":"nominal","scale":{"domain":["parent","selected","other","cohort"],"range":["#f7931e","#e2183c","#6d6ab3","#ffd400"]},"legend":null}}},
{"data":{"values":[{"t":12.4,"v":-0.0274,"s":"parent","label":"parent strain"},{"t":12.4,"v":-0.0581,"s":"cohort","label":"cohort members"}]},"mark":{"type":"text","align":"left","baseline":"alphabetic","fontSize":26},"encoding":{"text":{"field":"label"},"color":{"field":"s","type":"nominal","scale":{"domain":["parent","selected","other","cohort"],"range":["#f7931e","#e2183c","#6d6ab3","#ffd400"]},"legend":null}}}
]
},
{
"width":625,"height":247,
"title":{"text":"c","anchor":"start","frame":"group","dx":3,"offset":-36,"baseline":"alphabetic","fontSize":32,"fontWeight":"bold","color":"black"},
"encoding":{
"x":{"field":"t","type":"quantitative","scale":{"domain":[0,455],"nice":false},"axis":{"values":[0,200,400],"labelFlush":false,"domainColor":"black","domainWidth":1.5,"tickColor":"black","tickWidth":2,"tickSize":-7,"labelFontSize":24,"labelBaseline":"alphabetic","labelPadding":36,"title":"Time [ms]","titleFontSize":27,"titleX":425,"titleY":29,"titleBaseline":"alphabetic","titleAlign":"center"}},
"y":{"field":"v","type":"quantitative","scale":{"domain":[0,0.011],"nice":false},"axis":{"values":[0,0.01,0.0108,0.011],"labelExpr":"datum.value == 0 ? '0' : (datum.value == 0.01 ? '0.01' : '')","domainColor":"black","domainWidth":1.5,"tickColor":"black","tickWidth":1.5,"tickSize":-7,"labelFontSize":26,"labelPadding":26,"title":"Subtraction sqr.","titleFontSize":24,"titleX":-12,"titleY":111,"titleAngle":-90,"titleBaseline":"alphabetic","titleAlign":"center"}}
},
"layer":[
{"data":{"name":"pc"},"mark":{"type":"line","color":"#e9e8c8","strokeWidth":1.6,"clip":true,"interpolate":"monotone"},"encoding":{"detail":{"field":"k","type":"nominal"}}},
{"data":{"name":"yc"},"mark":{"type":"line","color":"#ffd400","strokeWidth":1.2,"clip":true,"interpolate":"monotone"},"encoding":{"detail":{"field":"k","type":"nominal"}}},
{"data":{"name":"mc"},"mark":{"type":"line","strokeWidth":2.5,"clip":true,"interpolate":"monotone"},"encoding":{"color":{"field":"s","type":"nominal","scale":{"domain":["parent","selected","other","cohort"],"range":["#f7931e","#e2183c","#6d6ab3","#ffd400"]},"legend":null}}}
]
}
],
"spacing":0,
"bounds":"flush"
}
]
}
